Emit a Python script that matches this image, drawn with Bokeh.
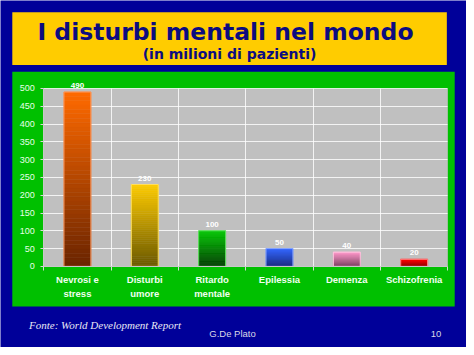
from bokeh.plotting import figure
from bokeh.models import (BoxAnnotation, Label, FixedTicker, ColumnDataSource, Range1d)
from bokeh.embed import file_html
from bokeh.resources import INLINE
from bokeh.core.properties import value

# ---- data ----
categories = ["Nevrosi e\nstress", "Disturbi\numore", "Ritardo\nmentale",
              "Epilessia", "Demenza", "Schizofrenia"]
patients = [490, 230, 100, 50, 40, 20]
y_ticks = [0, 50, 100, 150, 200, 250, 300, 350, 400, 450, 500]
title_text = "I disturbi mentali nel  mondo"
subtitle_text = "(in milioni di pazienti)"
source_text = "Fonte: World Development Report"
author_text = "G.De Plato"
page_text = "10"

# ---- styles ----
top_colors = ["#ff6a00", "#ffcc00", "#00c800", "#3366ff", "#ff99cc", "#ff0000"]
bottom_colors = ["#6a2400", "#6a5800", "#003c00", "#1a2a80", "#7a4060", "#8a0000"]
outline_colors = ["#ff9a60", "#ffe060", "#60e060", "#8aa8ff", "#ffc8e0", "#ff9090"]
DARK_BLUE = "#000099"
GREEN = "#00c000"
GRAY = "#c0c0c0"
YELLOW = "#ffcc00"
NAVY = "#0c0c80"

# ---- layout geometry: slide pixels scaled onto the canvas ----
REF_W, REF_H = 474, 355
W, H = 466, 347
def X(px):
    return px * W / REF_W
def Y(py):
    return py * H / REF_H

GX0, GX1, GY0, GY1 = X(44), X(455), Y(90), Y(272)   # gray plotting area
n = len(categories)
ymax = y_ticks[-1]
px_x = (GX1 - GX0) / n
px_y = (GY1 - GY0) / ymax
x_range = Range1d(-GX0 / px_x, n + (W - GX1) / px_x)
y_range = Range1d(-(H - GY1) / px_y, ymax + GY0 / px_y)

p = figure(width=W, height=H, output_backend="svg", toolbar_location=None,
           x_range=x_range, y_range=y_range, min_border=0)
p.border_fill_color = DARK_BLUE
p.background_fill_color = DARK_BLUE
p.outline_line_color = None

def cbox(l, r, t, b, color, level):
    p.add_layout(BoxAnnotation(left=X(l), right=X(r), top=Y(t), bottom=Y(b),
                               left_units="canvas", right_units="canvas",
                               top_units="canvas", bottom_units="canvas",
                               fill_color=color, fill_alpha=1, line_color=None,
                               level=level))

cbox(12, 462, 73, 313, GREEN, "image")       # green panel
cbox(12, 454, 12, 66, YELLOW, "annotation")  # yellow title box
# gray plotting area in data units
p.add_layout(BoxAnnotation(left=0, right=n, bottom=0, top=ymax, fill_color=GRAY,
                           fill_alpha=1, line_color=None, level="image"))

# bars with vertical gradient
def hex2rgb(h):
    h = h.lstrip("#")
    return tuple(int(h[i:i + 2], 16) for i in (0, 2, 4))

N = 40
xs, bots, tops, cols = [], [], [], []
for i, v in enumerate(patients):
    c0, c1 = hex2rgb(bottom_colors[i]), hex2rgb(top_colors[i])
    for k in range(N):
        f = (k + 0.5) / N
        c = tuple(int(round(c0[j] + (c1[j] - c0[j]) * f)) for j in range(3))
        xs.append(i + 0.5)
        bots.append(v * k / N)
        tops.append(v * (k + 1) / N)
        cols.append("#%02x%02x%02x" % c)
p.vbar(x=xs, bottom=bots, top=tops, width=0.4, fill_color=cols, line_color=cols,
       line_width=0.5)

centers = [i + 0.5 for i in range(n)]
src = ColumnDataSource(dict(x=centers, top=patients, oc=outline_colors,
                            lab=[str(v) for v in patients]))
p.vbar(x="x", top="top", bottom=0, width=0.4, source=src, fill_color=None,
       line_color="oc", line_width=1)
p.text(x="x", y="top", text="lab", source=src, y_offset=-4,
       text_align="center", text_baseline="bottom",
       text_font=value("Liberation Sans"), text_font_style="bold",
       text_font_size="8px", text_color="#ffffff")

# axes
xa = p.xaxis[0]
xa.fixed_location = 0
xa.bounds = (0, n)
xa.ticker = FixedTicker(ticks=centers, minor_ticks=list(range(n + 1)))
xa.major_label_overrides = {c: lab for c, lab in zip(centers, categories)}
xa.major_tick_line_color = None
xa.major_tick_out = 0
xa.major_tick_in = 0
xa.minor_tick_line_color = "#d8d8d8"
xa.minor_tick_out = 4
xa.minor_tick_in = 0
xa.axis_line_color = "#c8c8c8"
xa.major_label_standoff = 4
xa.major_label_text_font = "Liberation Sans"
xa.major_label_text_font_style = "bold"
xa.major_label_text_font_size = "9.5px"
xa.major_label_text_color = "#f0fff0"
xa.major_label_text_line_height = 1.25

ya = p.yaxis[0]
ya.fixed_location = 0
ya.bounds = (0, ymax)
ya.ticker = FixedTicker(ticks=y_ticks)
ya.minor_tick_line_color = None
ya.major_tick_out = 3
ya.major_tick_in = 0
ya.major_tick_line_color = "#d8d8d8"
ya.axis_line_color = "#c8c8c8"
ya.major_label_standoff = 6
ya.major_label_text_font = "Liberation Sans"
ya.major_label_text_font_size = "9px"
ya.major_label_text_color = "#e8ffe8"

p.xgrid.ticker = FixedTicker(ticks=list(range(1, n)))
p.xgrid.cross_bounds = (0, ymax)
p.ygrid.ticker = FixedTicker(ticks=y_ticks[1:])
p.ygrid.cross_bounds = (0, n)
for g in (p.xgrid[0], p.ygrid[0]):
    g.grid_line_color = "#ffffff"
    g.grid_line_alpha = 0.8

# texts
def add_label(text, x, y, font, size, color, style="normal", align="center"):
    p.add_layout(Label(x=X(x), y=Y(y), x_units="canvas", y_units="canvas", text=text,
                       text_font=font, text_font_size=size, text_color=color,
                       text_font_style=style, text_align=align,
                       text_baseline="middle"))

add_label(title_text, 233, 32, "DejaVu Sans", "23.5px", NAVY, "bold")
add_label(subtitle_text, 233, 54.5, "DejaVu Sans", "14px", NAVY, "bold")
add_label(source_text, 29, 332, "Liberation Serif", "11px", "#e8e8f4", "italic", "left")
add_label(author_text, 236, 341, "Liberation Sans", "9.5px", "#d8d8e8")
add_label(page_text, 443, 341, "Liberation Sans", "9.5px", "#d8d8e8")

open("out.html", "w").write(file_html(p, INLINE))
